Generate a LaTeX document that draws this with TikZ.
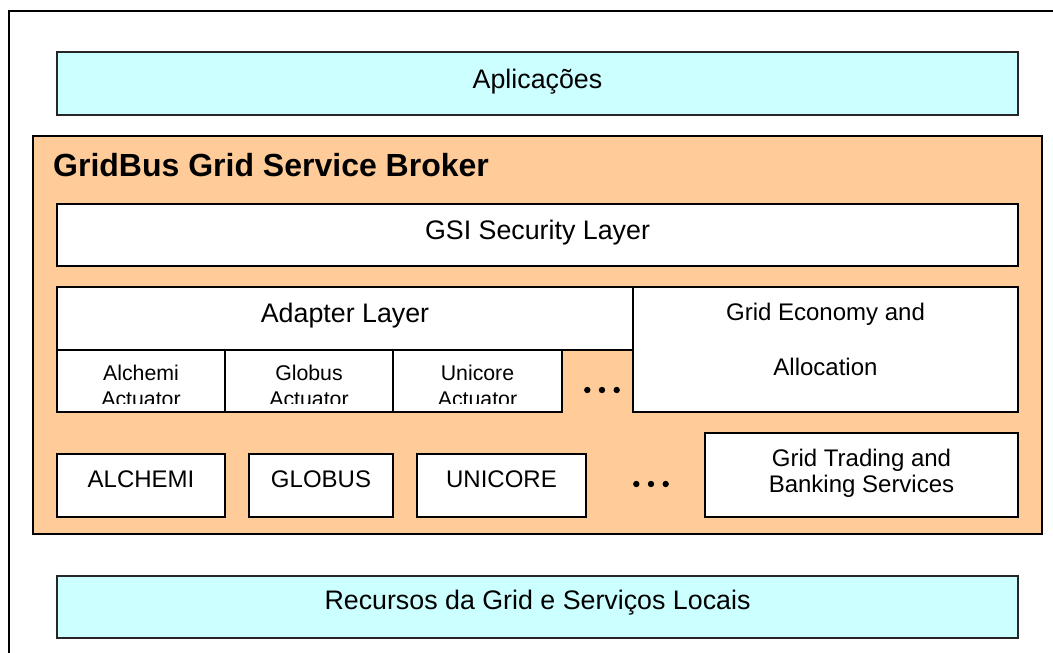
\documentclass[tikz,border=0pt]{standalone}
\usepackage{fontspec}
\setmainfont{Liberation Sans}
\definecolor{cyanfill}{HTML}{CCFFFF}
\definecolor{orangefill}{HTML}{FFCC99}
\tikzset{
  layerbox/.style={draw=black, line width=1.8pt, fill=white},
  cyanbox/.style={draw=black!85, line width=1.8pt, fill=cyanfill},
  brokerbox/.style={draw=black, line width=1.8pt, fill=orangefill},
  frameline/.style={draw=black, line width=2pt},
  lbl/.style={anchor=base, inner sep=0pt, font=\fontsize{26.8}{30}\selectfont},
  midlbl/.style={anchor=base, inner sep=0pt, font=\fontsize{24}{28}\selectfont},
  smalllbl/.style={anchor=base, inner sep=0pt, font=\fontsize{21.3}{25}\selectfont},
  titlelbl/.style={anchor=base west, inner sep=0pt, font=\bfseries\fontsize{32}{36}\selectfont},
  dotmark/.style={fill=black, draw=none}
}
\begin{document}
\begin{tikzpicture}[x=1pt,y=-1pt]
\useasboundingbox (0,0) rectangle (1053,653);
% outer frame (only top and left edges visible)
\draw[frameline] (9,653) -- (9,11) -- (1053,11);
% Aplicacoes
\draw[cyanbox] (57,52) rectangle (1018,115);
\node[lbl] (apl) at (537.5,88) {Aplicações};
% broker
\draw[brokerbox] (33,136) rectangle (1042,534);
\node[titlelbl] (title) at (53,176) {GridBus Grid Service Broker};
% GSI
\draw[layerbox] (57,204) rectangle (1018,266);
\node[lbl] (gsi) at (537.5,239) {GSI Security Layer};
% Adapter layer
\draw[layerbox] (57,287) rectangle (633,350);
\node[lbl] (adapter) at (345,322) {Adapter Layer};
% actuators
\draw[layerbox] (57,350) rectangle (225,412);
\draw[layerbox] (225,350) rectangle (393,412);
\draw[layerbox] (393,350) rectangle (562,412);
\node[smalllbl] (alchA) at (141,380) {Alchemi};
\node[smalllbl] (globA) at (309,380) {Globus};
\node[smalllbl] (uniA) at (477.5,380) {Unicore};
\begin{scope}
\clip (57,385) rectangle (562,403);
\node[smalllbl] (alchB) at (141,406) {Actuator};
\node[smalllbl] (globB) at (309,406) {Actuator};
\node[smalllbl] (uniB) at (477.5,406) {Actuator};
\end{scope}
\foreach \dx in {-14.7,0,14.7} {\fill[dotmark] (602+\dx,390) circle (3.2);}
% grid economy
\draw[layerbox] (633,287) rectangle (1018,412);
\node[midlbl] (econ1) at (825.5,320) {Grid Economy and};
\node[midlbl] (econ2) at (825.5,375) {Allocation};
% bottom row
\draw[layerbox] (57,454) rectangle (225,517);
\node[midlbl] (alchemi) at (141,487) {ALCHEMI};
\draw[layerbox] (249,454) rectangle (393,517);
\node[midlbl] (globus) at (321,487) {GLOBUS};
\draw[layerbox] (417,454) rectangle (586,517);
\node[midlbl] (unicore) at (501.5,487) {UNICORE};
\foreach \dx in {-14.7,0,14.7} {\fill[dotmark] (651+\dx,484) circle (3.2);}
\draw[layerbox] (705,433) rectangle (1018,517);
\node[midlbl] (trad1) at (861.5,466) {Grid Trading and};
\node[midlbl] (trad2) at (861.5,492) {Banking Services};
% Recursos
\draw[cyanbox] (57,576) rectangle (1018,638);
\node[lbl] (rec) at (537.5,609) {Recursos da Grid e Serviços Locais};
\end{tikzpicture}
\end{document}
